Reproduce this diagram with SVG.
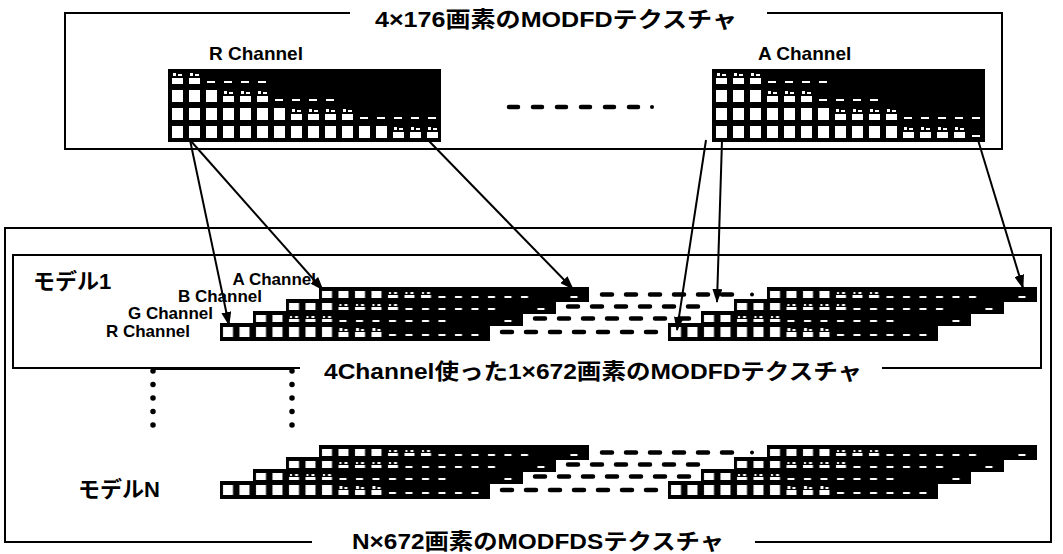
<svg xmlns="http://www.w3.org/2000/svg" width="1063" height="554" viewBox="0 0 1063 554">
<style>
.frame{fill:none;stroke:#000;stroke-width:2}
.conn{fill:none;stroke:#000;stroke-width:2;marker-end:url(#ah)}
.dash{stroke:#000;stroke-width:4.5;stroke-linecap:round;stroke-dasharray:10 14;fill:none}
.tdash{stroke:#000;stroke-width:4.5;stroke-linecap:round;stroke-dasharray:9 15;fill:none}
.dots{stroke:#000;stroke-width:5.5;stroke-linecap:round;stroke-dasharray:0 13.5;fill:none}
.ttl{font-family:"Liberation Sans","Noto Sans CJK JP",sans-serif;font-weight:bold;font-size:22px;fill:#000}
.lbl{font-family:"Liberation Sans",sans-serif;font-weight:bold;font-size:19px;fill:#000}
.ch{font-family:"Liberation Sans",sans-serif;font-weight:bold;font-size:17px;fill:#000;text-anchor:end}
.blk{fill:#000}
.w{fill:#fff}
</style>
<defs>
<marker id="ah" viewBox="0 0 14 10" refX="13" refY="5" markerWidth="14" markerHeight="10" markerUnits="userSpaceOnUse" orient="auto"><path d="M0,0 L14,5 L0,10 z" fill="#000"/></marker>
<pattern id="tF" patternUnits="userSpaceOnUse" x="172" y="72" width="17" height="18"><rect class="w" width="11" height="12"/></pattern>
<pattern id="tP" patternUnits="userSpaceOnUse" x="172" y="72" width="17" height="18"><rect class="w" y="6" width="11" height="6"/><rect class="w" x="1" y="1" width="3" height="3"/><rect class="w" x="6" y="2" width="4" height="2"/></pattern>
<pattern id="tL" patternUnits="userSpaceOnUse" x="172" y="72" width="17" height="18"><rect class="w" x="1" y="9" width="8" height="2"/></pattern>
<pattern id="mF" patternUnits="userSpaceOnUse" width="16.5" height="12"><rect class="w" x="3" y="4" width="10" height="7"/></pattern>
<pattern id="mP" patternUnits="userSpaceOnUse" width="16.5" height="12"><rect class="w" x="3" y="8" width="10" height="3"/><rect class="w" x="4" y="5" width="2" height="2"/><rect class="w" x="9" y="5" width="3" height="2"/></pattern>
<pattern id="mL" patternUnits="userSpaceOnUse" width="16.5" height="12"><rect class="w" x="4" y="9" width="7" height="2"/></pattern>
<pattern id="rF" patternUnits="userSpaceOnUse" width="16.5" height="18"><rect class="w" x="3" y="4" width="10" height="10"/></pattern>
<pattern id="rP" patternUnits="userSpaceOnUse" width="16.5" height="18"><rect class="w" x="3" y="9" width="10" height="5"/><rect class="w" x="4" y="5" width="3" height="3"/><rect class="w" x="9" y="6" width="3" height="2"/></pattern>
<pattern id="rL" patternUnits="userSpaceOnUse" width="16.5" height="18"><rect class="w" x="4" y="11" width="7" height="2"/></pattern>
<g id="stair">
<rect class="blk" x="99" y="-36" width="270" height="15"/>
<rect fill="url(#mF)" x="99" y="-36" width="66" height="15"/>
<rect fill="url(#mP)" x="165" y="-36" width="49.5" height="15"/>
<rect fill="url(#mL)" x="214.5" y="-36" width="99" height="15"/>
<rect fill="url(#mL)" x="346.5" y="-36" width="16.5" height="15"/>
<rect class="blk" x="66" y="-24" width="270" height="15"/>
<rect fill="url(#mF)" x="66" y="-24" width="49.5" height="15"/>
<rect fill="url(#mP)" x="115.5" y="-24" width="66" height="15"/>
<rect fill="url(#mL)" x="181.5" y="-24" width="99" height="15"/>
<rect fill="url(#mL)" x="313.5" y="-24" width="16.5" height="15"/>
<rect class="blk" x="33" y="-12" width="270" height="15"/>
<rect fill="url(#mF)" x="33" y="-12" width="33" height="15"/>
<rect fill="url(#mP)" x="66" y="-12" width="49.5" height="15"/>
<rect fill="url(#mL)" x="115.5" y="-12" width="115.5" height="15"/>
<rect fill="url(#mL)" x="280.5" y="-12" width="16.5" height="15"/>
<rect class="blk" x="0" y="0" width="270" height="18"/>
<rect fill="url(#rF)" x="0" y="0" width="115.5" height="18"/>
<rect fill="url(#rP)" x="115.5" y="0" width="49.5" height="18"/>
<rect fill="url(#rL)" x="165" y="0" width="99" height="18"/>
</g>
</defs>

<g id="frames">
<path class="frame" d="M350,13 H65 V149 H1002 V13 H767"/>
<path class="frame" d="M312,542 H5 V228 H1051 V542 H755"/>
<path class="frame" d="M300,368 H13 V255 H1041 V368 H882"/>
</g>

<g id="titles">
<text class="ttl" x="375" y="27" textLength="362" lengthAdjust="spacingAndGlyphs">4×176画素のMODFDテクスチャ</text>
<text class="ttl" x="324" y="379" textLength="538" lengthAdjust="spacingAndGlyphs">4Channel使った1×672画素のMODFDテクスチャ</text>
<text class="ttl" x="352" y="549" textLength="372" lengthAdjust="spacingAndGlyphs">N×672画素のMODFDSテクスチャ</text>
</g>

<g id="r-channel-texture">
<text class="lbl" x="209" y="60">R Channel</text>
<rect class="blk" x="168" y="69" width="273" height="73"/>
<rect fill="url(#tP)" x="172" y="72" width="34" height="14"/>
<rect fill="url(#tL)" x="206" y="72" width="68" height="14"/>
<rect fill="url(#tF)" x="172" y="90" width="51" height="14"/>
<rect fill="url(#tP)" x="223" y="90" width="51" height="14"/>
<rect fill="url(#tL)" x="274" y="90" width="68" height="14"/>
<rect fill="url(#tF)" x="172" y="108" width="119" height="14"/>
<rect fill="url(#tP)" x="291" y="108" width="68" height="14"/>
<rect fill="url(#tL)" x="359" y="108" width="85" height="14"/>
<rect fill="url(#tF)" x="172" y="126" width="221" height="14"/>
<rect fill="url(#tP)" x="393" y="126" width="51" height="14"/>
</g>

<g id="a-channel-texture">
<text class="lbl" x="758" y="60">A Channel</text>
<rect class="blk" x="712" y="69" width="273" height="73"/>
<rect fill="url(#tP)" x="716" y="72" width="51" height="14"/>
<rect fill="url(#tL)" x="767" y="72" width="68" height="14"/>
<rect fill="url(#tF)" x="716" y="90" width="51" height="14"/>
<rect fill="url(#tP)" x="767" y="90" width="51" height="14"/>
<rect fill="url(#tL)" x="818" y="90" width="68" height="14"/>
<rect fill="url(#tF)" x="716" y="108" width="119" height="14"/>
<rect fill="url(#tP)" x="835" y="108" width="68" height="14"/>
<rect fill="url(#tL)" x="903" y="108" width="85" height="14"/>
<rect fill="url(#tF)" x="716" y="126" width="187" height="14"/>
<rect fill="url(#tP)" x="903" y="126" width="68" height="14"/>
<rect fill="url(#tL)" x="971" y="126" width="14" height="14"/>
</g>

<g id="top-gap">
<line class="tdash" x1="509" y1="107" x2="640" y2="107"/>
<circle cx="652" cy="107" r="2" fill="#000"/>
</g>

<g id="model1">
<text class="ttl" x="33" y="289">モデル1</text>
<text class="ch" x="316" y="285">A Channel</text>
<text class="ch" x="262" y="302">B Channel</text>
<text class="ch" x="213" y="319">G Channel</text>
<text class="ch" x="190" y="337">R Channel</text>
<use href="#stair" x="220" y="323"/>
<use href="#stair" x="668" y="323"/>
<line class="dash" x1="602" y1="294.5" x2="738" y2="294.5"/>
<circle cx="752" cy="294.5" r="2" fill="#000"/>
<line class="dash" x1="568" y1="306.5" x2="704" y2="306.5"/>
<line class="dash" x1="535" y1="318.5" x2="690" y2="318.5"/>
<line class="dash" x1="502" y1="332" x2="656" y2="332"/>
</g>

<g id="dotted">
<path class="frame" d="M153,369 H292"/>
<line class="dots" x1="153" y1="371" x2="153" y2="426"/>
<line class="dots" x1="292" y1="371" x2="292" y2="426"/>
</g>

<g id="modelN">
<text class="ttl" x="78" y="497">モデルN</text>
<use href="#stair" x="220" y="481"/>
<use href="#stair" x="668" y="481"/>
<line class="dash" x1="602" y1="452.5" x2="738" y2="452.5"/>
<circle cx="752" cy="452.5" r="2" fill="#000"/>
<line class="dash" x1="568" y1="464.5" x2="704" y2="464.5"/>
<line class="dash" x1="535" y1="476.5" x2="690" y2="476.5"/>
<line class="dash" x1="502" y1="490" x2="656" y2="490"/>
</g>

<g id="connectors">
<line class="conn" x1="190" y1="140" x2="229" y2="325"/>
<line class="conn" x1="190" y1="140" x2="323" y2="290"/>
<line class="conn" x1="428" y1="140" x2="573" y2="289"/>
<line class="conn" x1="706" y1="140" x2="677" y2="330"/>
<line class="conn" x1="722" y1="140" x2="717" y2="302"/>
<line class="conn" x1="978" y1="140" x2="1023" y2="288"/>
</g>
</svg>
